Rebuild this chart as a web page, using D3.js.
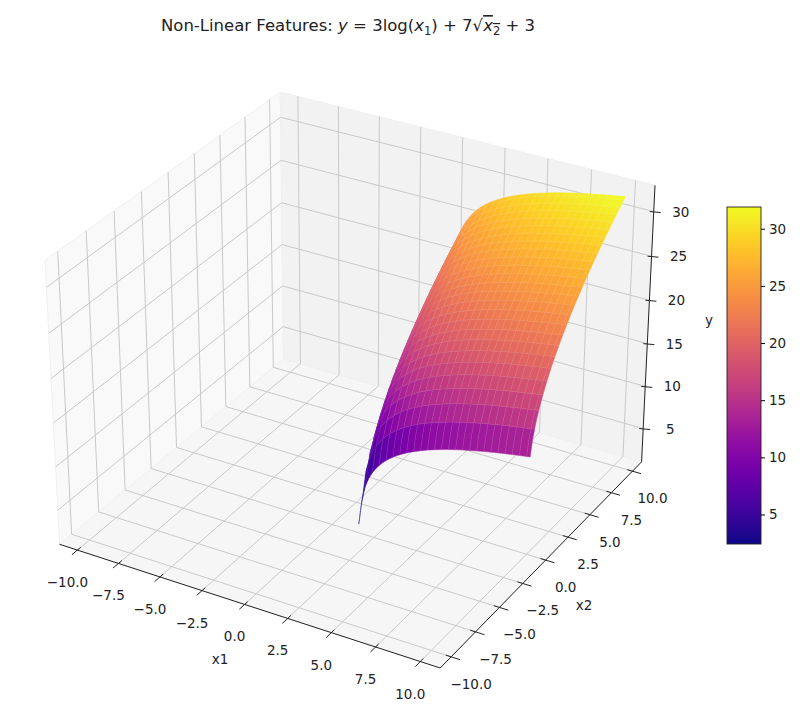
<!DOCTYPE html>
<html><head><meta charset="utf-8">
<script src="https://cdn.jsdelivr.net/npm/d3@7"></script>
<style>body{margin:0;background:#fff}text{font-family:"DejaVu Sans",sans-serif;fill:#222}</style>
</head><body>
<svg id="c" width="800" height="723"></svg>
<script>
// ---- data ----
const x1Grid = d3.range(100).map(k => -10 + k * 20 / 99);   // np.linspace(-10,10,100)
const x2Grid = d3.range(100).map(k => -10 + k * 20 / 99);
const x1Ticks = [-10, -7.5, -5, -2.5, 0, 2.5, 5, 7.5, 10];
const x2Ticks = [-10, -7.5, -5, -2.5, 0, 2.5, 5, 7.5, 10];
const zTicks = [5, 10, 15, 20, 25, 30];
const cbTicks = [5, 10, 15, 20, 25, 30];
const yFn = (a, b) => (a > 0 && b > 0) ? 3 * Math.log(a) + 7 * Math.sqrt(b) + 3 : NaN; // from title

const svg = d3.select("#c");
const X1 = [-11.1, 11.1], X2 = [-11.1, 11.1], Z = [1.0, 32.9];
const sX = d3.scaleLinear().domain(X1).range([-0.5, 0.5]);
const sY = d3.scaleLinear().domain(X2).range([-0.5, 0.5]);
const sZ = d3.scaleLinear().domain(Z).range([-0.375, 0.375]);
const el = 30 * Math.PI / 180, az = -60 * Math.PI / 180, D = 8;
const w = [Math.cos(el) * Math.cos(az), Math.cos(el) * Math.sin(az), Math.sin(el)];
let u = [-w[1], w[0], 0]; const un = Math.hypot(u[0], u[1]); u = [u[0] / un, u[1] / un, 0];
const v = [w[1] * u[2] - w[2] * u[1], w[2] * u[0] - w[0] * u[2], w[0] * u[1] - w[1] * u[0]];
const dot = (a, b) => a[0] * b[0] + a[1] * b[1] + a[2] * b[2];
function raw(a, b, c) {
  const p = [sX(a), sY(b), sZ(c)];
  const d = D - dot(p, w);
  return [dot(p, u) * D / d, dot(p, v) * D / d, d];
}
const corners = [];
for (const a of X1) for (const b of X2) for (const c of Z) corners.push(raw(a, b, c));
const px = d3.scaleLinear().domain(d3.extent(corners, c => c[0])).range([45, 655]);
const py = d3.scaleLinear().domain(d3.extent(corners, c => c[1])).range([668, 92]);
function P(a, b, c) { const r = raw(a, b, c); return [px(r[0]), py(r[1]), r[2]]; }
const line = d3.line();

// panes
const panes = [
  [[X1[0], X2[0], Z[0]], [X1[1], X2[0], Z[0]], [X1[1], X2[1], Z[0]], [X1[0], X2[1], Z[0]], "#f6f6f6"],
  [[X1[0], X2[0], Z[0]], [X1[0], X2[1], Z[0]], [X1[0], X2[1], Z[1]], [X1[0], X2[0], Z[1]], "#f9f9f9"],
  [[X1[0], X2[1], Z[0]], [X1[1], X2[1], Z[0]], [X1[1], X2[1], Z[1]], [X1[0], X2[1], Z[1]], "#f2f2f2"]
];
panes.forEach(p => svg.append("path").attr("d", line(p.slice(0, 4).map(q => P(...q))) + "Z").attr("fill", p[4]).attr("stroke", "#f0f0f0"));
const g = svg.append("g").attr("stroke", "#c9c9c9").attr("stroke-width", 1).attr("fill", "none");
const seg = (a, b) => g.append("path").attr("d", line([P(...a), P(...b)]));
x1Ticks.forEach(t => { seg([t, X2[0], Z[0]], [t, X2[1], Z[0]]); seg([t, X2[1], Z[0]], [t, X2[1], Z[1]]); });
x2Ticks.forEach(t => { seg([X1[0], t, Z[0]], [X1[1], t, Z[0]]); seg([X1[0], t, Z[0]], [X1[0], t, Z[1]]); });
zTicks.forEach(t => { seg([X1[0], X2[0], t], [X1[0], X2[1], t]); seg([X1[0], X2[1], t], [X1[1], X2[1], t]); });

// axis lines
const ax = svg.append("g").attr("stroke", "#222").attr("stroke-width", 1).attr("fill", "none");
const aseg = (a, b) => ax.append("path").attr("d", line([P(...a), P(...b)]));
aseg([X1[0], X2[0], Z[0]], [X1[1], X2[0], Z[0]]);
aseg([X1[1], X2[0], Z[0]], [X1[1], X2[1], Z[0]]);
aseg([X1[1], X2[1], Z[0]], [X1[1], X2[1], Z[1]]);

// surface
const rInd = d3.range(0, 99, 2).concat([99]);
const cells = [];
for (let i = 0; i < rInd.length - 1; i++) for (let j = 0; j < rInd.length - 1; j++) {
  const i0 = rInd[i], i1 = rInd[i + 1], j0 = rInd[j], j1 = rInd[j + 1];
  const bnd = [];
  for (let k = j0; k < j1; k++) bnd.push([i0, k]);
  for (let k = i0; k < i1; k++) bnd.push([k, j1]);
  for (let k = j1; k > j0; k--) bnd.push([i1, k]);
  for (let k = i1; k > i0; k--) bnd.push([k, j0]);
  const pts = bnd.map(([a, b]) => [x1Grid[a], x2Grid[b], yFn(x1Grid[a], x2Grid[b])]);
  if (pts.some(p => isNaN(p[2]))) continue;
  const avg = d3.mean(pts, p => p[2]);
  const pp = pts.map(p => P(...p));
  cells.push({ pp, avg, depth: d3.mean(pp, q => q[2]) });
}
const cmin = d3.min(cells, c => c.avg), cmax = d3.max(cells, c => c.avg);
const color = d3.scaleSequential(d3.interpolatePlasma).domain([cmin, cmax]);
cells.sort((a, b) => b.depth - a.depth);
svg.append("g").selectAll("path").data(cells).join("path")
  .attr("d", c => line(c.pp.map(q => [q[0], q[1]])) + "Z")
  .attr("fill", c => color(c.avg)).attr("stroke", c => d3.interpolateRgb(color(c.avg), "#fff")(0.12)).attr("stroke-width", 0.5);

// ticks & labels
const fs = 13.5;
x1Ticks.forEach(t => {
  const a = P(t, X2[0], Z[0]), b = P(t, X2[0] - 0.5, Z[0]), c = P(t, X2[0] + 0.3, Z[0]);
  ax.append("path").attr("d", line([[c[0], c[1]], [b[0], b[1]]]));
  svg.append("text").attr("x", a[0] - 10).attr("y", a[1] + 37).attr("text-anchor", "middle").attr("font-size", fs).text(d3.format(".1f")(t).replace("-", "\u2212"));
});
x2Ticks.forEach(t => {
  const a = P(X1[1], t, Z[0]), b = P(X1[1] + 0.5, t, Z[0]), c = P(X1[1] - 0.3, t, Z[0]);
  ax.append("path").attr("d", line([[c[0], c[1]], [b[0], b[1]]]));
  svg.append("text").attr("x", a[0] + 20).attr("y", a[1] + 32).attr("text-anchor", "middle").attr("font-size", fs).text(d3.format(".1f")(t).replace("-", "\u2212"));
});
zTicks.forEach(t => {
  const a = P(X1[1], X2[1], t);
  ax.append("path").attr("d", line([[a[0] - 4, a[1]], [a[0] + 7, a[1] + 1]]));
  svg.append("text").attr("x", a[0] + 27).attr("y", a[1] + 5).attr("text-anchor", "middle").attr("font-size", fs).text(t);
});
svg.append("text").attr("x", 220).attr("y", 664).attr("text-anchor", "middle").attr("font-size", fs).text("x1");
svg.append("text").attr("x", 584).attr("y", 610).attr("text-anchor", "middle").attr("font-size", fs).text("x2");
svg.append("text").attr("x", 709).attr("y", 325).attr("text-anchor", "middle").attr("font-size", fs).text("y");

// colorbar
const cbX = 727, cbW = 34, cbT = 207, cbB = 544;
const cy = d3.scaleLinear().domain([cmin, cmax]).range([cbB, cbT]);
const defs = svg.append("defs");
const grad = defs.append("linearGradient").attr("id", "gr").attr("x1", 0).attr("y1", 1).attr("x2", 0).attr("y2", 0);
d3.range(0, 1.001, 0.05).forEach(s => grad.append("stop").attr("offset", s).attr("stop-color", d3.interpolatePlasma(s)));
svg.append("rect").attr("x", cbX).attr("y", cbT).attr("width", cbW).attr("height", cbB - cbT).attr("fill", "url(#gr)").attr("stroke", "#222").attr("stroke-width", 0.9);
const cax = svg.append("g").attr("transform", `translate(${cbX + cbW},0)`)
  .call(d3.axisRight(cy).tickValues(cbTicks).tickSize(4).tickPadding(4));
cax.select(".domain").remove();
cax.selectAll("text").attr("font-size", fs).style("font-family", "DejaVu Sans");

// title
const tt = svg.append("text").attr("x", 348).attr("y", 31).attr("text-anchor", "middle").attr("font-size", 16.5);
tt.append("tspan").text("Non-Linear Features: ");
tt.append("tspan").attr("font-style", "italic").text("y");
tt.append("tspan").text(" = 3log(");
tt.append("tspan").attr("font-style", "italic").text("x");
tt.append("tspan").attr("font-size", 11.5).attr("dy", 4).text("1");
tt.append("tspan").attr("dy", -4).text(") + 7\u221A");
tt.append("tspan").attr("font-style", "italic").style("text-decoration", "overline").text("x");
tt.append("tspan").attr("font-size", 11.5).attr("dy", 4).style("text-decoration", "overline").text("2");
tt.append("tspan").attr("dy", -4).text(" + 3");
</script>
</body></html>
